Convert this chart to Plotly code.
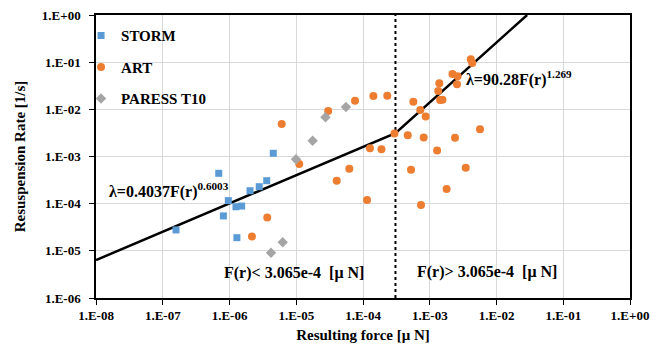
import plotly.graph_objects as go

# ---- data ----
storm_x = [1.58e-7, 6.9e-7, 8.1e-7, 9.6e-7, 1.25e-6, 1.52e-6, 1.29e-6, 2.03e-6, 2.79e-6, 3.61e-6, 4.53e-6]
storm_y = [2.77e-5, 4.4e-4, 5.5e-5, 1.16e-4, 8.6e-5, 8.9e-5, 1.9e-5, 1.88e-4, 2.29e-4, 3.07e-4, 1.17e-3]

art_x = [6.05e-6, 1.11e-5, 2.17e-6, 3.68e-6, 4.04e-5, 6.24e-5, 1.27e-4, 1.89e-4, 1.15e-4,
         3.01e-5, 7.59e-5, 1.43e-4, 2.31e-4, 5.68e-4, 7.21e-4, 8.69e-4, 2.96e-4, 4.68e-4,
         8.11e-4, 2.39e-3, 1.39e-3, 1.34e-3, 1.43e-3, 1.55e-3, 2.19e-3, 2.61e-3, 2.56e-3,
         4.12e-3, 4.33e-3, 5.66e-3, 1.29e-3, 5.24e-4, 3.46e-3, 1.79e-3, 7.40e-4]
art_y = [4.89e-3, 6.93e-4, 2.01e-5, 5.09e-5, 3.07e-4, 5.52e-4, 1.50e-3, 1.43e-3, 1.20e-4,
         9.23e-3, 1.52e-2, 1.92e-2, 1.95e-2, 1.45e-2, 9.68e-3, 7.05e-3, 3.08e-3, 2.83e-3,
         2.53e-3, 2.49e-3, 3.56e-2, 2.45e-2, 1.58e-2, 1.59e-2, 5.61e-2, 5.05e-2, 3.40e-2,
         1.15e-1, 9.59e-2, 3.78e-3, 1.34e-3, 5.25e-4, 5.79e-4, 2.05e-4, 9.38e-5]

paress_x = [4.19e-6, 6.27e-6, 9.91e-6, 1.76e-5, 2.74e-5, 5.56e-5]
paress_y = [9.1e-6, 1.52e-5, 8.73e-4, 2.16e-3, 6.78e-3, 1.12e-2]

# fitted power laws  lambda = a * F^b
threshold = 3.065e-4
fit_low_a, fit_low_b = 0.4037, 0.6003
fit_high_a, fit_high_b = 90.28, 1.269
fit_x_start = 1e-8
fit_x_end = (1.0 / fit_high_a) ** (1.0 / fit_high_b)
fit_x = [fit_x_start, threshold, fit_x_end]
fit_y = [fit_low_a * fit_x_start ** fit_low_b,
         fit_low_a * threshold ** fit_low_b,
         fit_high_a * fit_x_end ** fit_high_b]

x_tickvals = [1e-8, 1e-7, 1e-6, 1e-5, 1e-4, 1e-3, 1e-2, 1e-1, 1e0]
x_ticktext = ["1.E-08", "1.E-07", "1.E-06", "1.E-05", "1.E-04", "1.E-03", "1.E-02", "1.E-01", "1.E+00"]
y_tickvals = [1e-6, 1e-5, 1e-4, 1e-3, 1e-2, 1e-1, 1e0]
y_ticktext = ["1.E-06", "1.E-05", "1.E-04", "1.E-03", "1.E-02", "1.E-01", "1.E+00"]

SERIF = "'Liberation Serif', 'Times New Roman', serif"

fig = go.Figure()
fig.add_trace(go.Scatter(x=fit_x, y=fit_y, mode="lines", line=dict(color="black", width=2.5),
                         showlegend=False, hoverinfo="skip"))
fig.add_trace(go.Scatter(x=[threshold, threshold], y=[1e-6, 1e0], mode="lines",
                         line=dict(color="black", width=2, dash="dot"), showlegend=False, hoverinfo="skip"))
fig.add_trace(go.Scatter(x=storm_x, y=storm_y, mode="markers", name="STORM", legendgroup="a",
                         marker=dict(symbol="square", size=7, color="#5B9BD5")))
fig.add_trace(go.Scatter(x=art_x, y=art_y, mode="markers", name="ART", legendgroup="b",
                         marker=dict(symbol="circle", size=8, color="#ED7D31")))
fig.add_trace(go.Scatter(x=paress_x, y=paress_y, mode="markers", name="PARESS T10", legendgroup="c",
                         marker=dict(symbol="diamond", size=8, color="#A5A5A5")))

ann_font = dict(family=SERIF, size=16, color="black", weight="bold")
fig.add_annotation(x=-7.83, y=-3.725, text="λ=0.4037F(r)<sup>0.6003</sup>", showarrow=False,
                   xanchor="left", yanchor="middle", font=ann_font)
fig.add_annotation(x=-2.48, y=-1.336, text="λ=90.28F(r)<sup>1.269</sup>", showarrow=False,
                   xanchor="left", yanchor="middle", font=ann_font)
fig.add_annotation(x=-6.112, y=-5.47, text="F(r)< 3.065e-4  [μ N]", showarrow=False,
                   xanchor="left", yanchor="middle", font=ann_font)
fig.add_annotation(x=-3.221, y=-5.45, text="F(r)> 3.065e-4  [μ N]", showarrow=False,
                   xanchor="left", yanchor="middle", font=ann_font)

# white patch behind the legend (hides the grid there, like the reference)
fig.add_shape(type="rect", xref="paper", yref="paper", x0=0, x1=0.219, y0=0.664, y1=1,
              fillcolor="white", line=dict(width=0), layer="below")

axis_common = dict(type="log", showgrid=True, gridcolor="#D9D9D9", gridwidth=1,
                   showline=True, linecolor="black", linewidth=1.5, mirror=True,
                   ticks="outside", ticklen=5, tickcolor="black", zeroline=False,
                   automargin=False,
                   tickfont=dict(family=SERIF, size=13, color="black", weight="bold"))

fig.update_xaxes(**axis_common, range=[-8, 0], tickvals=x_tickvals, ticktext=x_ticktext,
                 title=dict(text="Resulting force [μ N]", standoff=7,
                            font=dict(family=SERIF, size=15, color="black", weight="bold")))
fig.update_yaxes(**axis_common, range=[-6, 0], tickvals=y_tickvals, ticktext=y_ticktext,
                 ticklabelstandoff=6,
                 title=dict(text="Resuspension Rate [1/s]", standoff=13,
                            font=dict(family=SERIF, size=15, color="black", weight="bold")))

fig.update_layout(
    width=653, height=347,
    margin=dict(l=96, r=23, t=15, b=49, autoexpand=False),
    paper_bgcolor="white", plot_bgcolor="white",
    legend=dict(x=-0.028, y=0.985, xanchor="left", yanchor="top", bgcolor="rgba(0,0,0,0)",
                traceorder="grouped", tracegroupgap=9, itemwidth=30,
                font=dict(family=SERIF, size=15, color="black", weight="bold")),
)

fig.write_html("out.html", config={"displayModeBar": False},
               post_script="document.body.style.margin='0';")
